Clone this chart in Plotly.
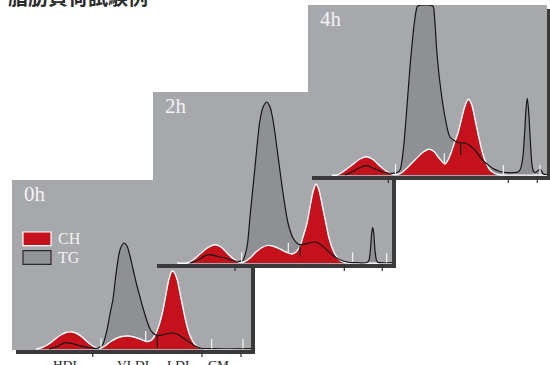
import numpy as np
import plotly.graph_objects as go

# ---------------- data (elution time in min, detector response) ----------------
title_text = "脂肪負荷試験例"
panel_names = ["0h", "2h", "4h"]
legend_labels = ["CH", "TG"]
fraction_labels = ["HDL", "VLDL", "LDL", "CM"]
fraction_label_t = [5.45, 12.25, 16.75, 20.6]

ch0_t = [2.4, 3.0, 3.6, 4.2, 4.8, 5.4, 6.0, 6.5, 7.0, 7.5, 8.0, 8.5, 8.9, 9.3, 9.8, 10.4, 11.0,
         11.6, 12.2, 12.8, 13.3, 13.6, 13.9, 14.2, 14.5, 14.8, 15.1, 15.4, 15.7, 16.0, 16.2, 16.5,
         16.8, 17.1, 17.4, 17.7, 18.0, 18.3, 18.6, 19.0, 19.5, 23.9]
ch0_v = [0, 1.5, 4.5, 9, 13.5, 16.5, 17, 15.5, 12, 7.5, 3.5, 1, 1, 3, 7, 10.5, 12.5,
         13, 12, 10, 8, 7.5, 8.5, 12, 18, 27, 39, 55, 70, 78, 77, 70,
         56, 41, 27, 16, 9, 4.5, 2, 0.8, 0, 0]
tg0_t = [3.7, 4.5, 5.3, 6.0, 7.1, 8.0, 8.5, 8.8, 9.1, 9.5, 9.8, 10.1, 10.4, 10.7, 10.9, 11.2,
         11.5, 11.8, 12.1, 12.5, 12.8, 13.1, 13.5, 13.8, 14.1, 14.5, 15.0, 15.6, 16.1, 16.6,
         17.1, 17.6, 18.0, 18.4, 18.8, 19.3, 20.0, 23.9]
tg0_v = [0, 2.5, 6.3, 5.5, 2.3, 1, 0.7, 2, 5, 19, 35, 50, 75, 95, 102, 106,
         103, 93, 80, 63, 52, 41, 28, 20, 16, 13.5, 14, 15.5, 16, 14.5,
         11, 7.7, 5, 2.7, 1.2, 0.5, 0.3, 0.3]

ch2_t = [2.4, 3.4, 4.0, 4.7, 5.5, 6.2, 6.8, 7.4, 8.0, 8.5, 8.8, 9.2, 9.7, 10.3, 10.9, 11.5,
         12.1, 12.7, 13.3, 13.9, 14.3, 14.7, 15.0, 15.4, 15.7, 16.0, 16.3, 16.6, 16.9, 17.3,
         17.6, 18.0, 18.4, 18.8, 19.2, 23.9]
ch2_v = [0, 0, 3, 9, 15.5, 18.3, 16, 10, 4.5, 1.5, 0.5, 1.5, 5, 11, 15.5, 17.6,
         16.5, 14, 11, 9, 11, 17, 26, 40, 56, 71, 79, 73, 59, 39.5,
         25, 13, 5.5, 2, 0.5, 0]
tg2_t = [3.7, 4.5, 5.5, 6.5, 7.4, 8.0, 8.7, 9.0, 9.4, 9.7, 10.2, 10.7, 11.05, 11.4, 11.7,
         12.0, 12.5, 13.0, 13.5, 14.0, 14.5, 15.0, 15.6, 16.2, 16.6, 17.0, 17.45, 17.9, 18.3,
         18.7, 19.2, 19.7, 20.5, 21.4, 21.6, 21.75, 21.87, 21.97, 22.07, 22.19, 22.34, 22.5,
         22.8, 23.9]
tg2_v = [0, 3, 8.3, 6.5, 4.3, 2.5, 1.6, 3, 16, 46, 96, 143, 157, 161, 156,
         143, 107, 70, 40, 25, 19, 18.5, 20, 21, 19.5, 16.6, 12.5, 8.3, 5.5,
         3.3, 1.5, 0.5, 0.3, 0.5, 3, 14, 30, 35.6, 30, 14, 3, 0.5,
         0.3, 0.3]

ch4_t = [2.4, 2.9, 3.6, 4.4, 5.2, 5.87, 6.5, 7.2, 7.9, 8.5, 9.0, 9.4, 10.0, 10.7, 11.4, 12.1,
         12.6, 13.1, 13.7, 14.0, 14.3, 14.6, 15.0, 15.4, 15.7, 16.03, 16.35, 16.7, 17.03, 17.4,
         17.8, 18.2, 18.6, 19.0, 19.4, 23.9]
ch4_v = [0, 0, 4, 10, 16, 18.3, 15.5, 9, 3.5, 0.8, 0.8, 2.5, 8, 15, 22, 25.7,
         23.5, 17, 11, 15, 22, 31, 42, 58, 69, 75.7, 71, 56, 40, 24,
         12, 5, 2, 0.5, 0, 0]
tg4_t = [3.7, 4.5, 5.2, 5.87, 6.6, 7.37, 8.0, 8.5, 8.9, 9.2, 9.53, 9.87, 10.2, 10.63, 10.85,
         10.97, 12.47, 12.65, 12.87, 13.2, 13.7, 14.2, 14.87, 15.3, 15.7, 16.37, 16.8, 17.2,
         17.6, 18.03, 18.5, 19.0, 19.5, 20.0, 20.5, 21.0, 21.2, 21.45, 21.65, 21.8, 21.93,
         22.05, 22.2, 22.38, 22.53, 22.7, 22.95, 23.2, 23.4, 23.53, 23.9]
tg4_v = [0, 3.5, 7.5, 9.3, 6.5, 3.3, 2, 1.7, 2.5, 5, 25, 65, 108, 152, 166,
         169, 169, 158, 125, 91.7, 58, 38, 33, 32, 32, 28, 23.5, 18,
         13.5, 10, 6.5, 4.3, 3, 2.3, 2.3, 3, 5, 15, 40, 66, 76.7,
         66, 40, 12, 4, 2.5, 4, 5.7, 3.5, 1, 0.5]

# fraction collection markers (white), fraction boundaries (dark), VLDL/LDL cut (black)
collect_t = [[8.9, 13.37, 19.97, 23.1], [8.87, 13.53, 19.97, 23.37], [8.75, 13.63, 19.53, 23.2]]
boundary_t = [[8.07, 19.0, 22.9], [8.2, 19.13, 22.93], [8.03, 20.03, 22.93]]
cut_t = [14.53, 14.7, 15.27]

ch_t = [ch0_t, ch2_t, ch4_t]
ch_v = [ch0_v, ch2_v, ch4_v]
tg_t = [tg0_t, tg2_t, tg4_t]
tg_v = [tg0_v, tg2_v, tg4_v]

# ---------------- layout geometry (pixels) ----------------
W, H = 550, 365
panels = [dict(x0=12, top=180, base=349), dict(x0=153, top=92, base=263), dict(x0=308, top=5, base=175)]
PW = 239  # panel width px
SH = 4    # shadow offset

RED = "#c5111b"
PANEL = "#a7a8ac"
TGFILL = "#8f9094"
SHADOW = "#3a3a3a"
TXT = "#f2f2f2"
SERIF = "Liberation Serif"

fig = go.Figure()
shapes = []
annotations = []
layout_axes = {}

for i, p in enumerate(panels):
    sfx = "" if i == 0 else str(i + 1)
    xa, ya = "x" + sfx, "y" + sfx
    xr = min(p["x0"] + PW + SH + 2, W)
    ph = p["base"] - p["top"]
    layout_axes["xaxis" + sfx] = dict(domain=[p["x0"] / W, xr / W], range=[0, (xr - p["x0"]) / 10],
                                      visible=False, fixedrange=True)
    layout_axes["yaxis" + sfx] = dict(domain=[(H - (p["base"] + 10)) / H, (H - p["top"]) / H],
                                      range=[-10, ph], visible=False, fixedrange=True)
    # shadow + panel
    shapes.append(dict(type="rect", xref=xa, yref=ya, x0=SH / 10, x1=(PW + SH) / 10, y0=-1 - SH, y1=ph - SH,
                       fillcolor=SHADOW, line=dict(width=0), layer="below"))
    shapes.append(dict(type="rect", xref=xa, yref=ya, x0=0, x1=PW / 10, y0=-1, y1=ph,
                       fillcolor=PANEL, line=dict(width=0), layer="below"))

    # TG fill
    fig.add_trace(go.Scatter(x=tg_t[i], y=tg_v[i], xaxis=xa, yaxis=ya, mode="lines", fill="tozeroy",
                             fillcolor=TGFILL, line=dict(width=0, shape="spline", smoothing=0.8),
                             showlegend=False, hoverinfo="skip"))
    # CH fill
    fig.add_trace(go.Scatter(x=ch_t[i], y=ch_v[i], xaxis=xa, yaxis=ya, mode="lines", fill="tozeroy",
                             fillcolor=RED, line=dict(width=1.4, color="white", shape="spline", smoothing=0.8),
                             showlegend=False, hoverinfo="skip"))
    # TG line
    fig.add_trace(go.Scatter(x=tg_t[i], y=tg_v[i], xaxis=xa, yaxis=ya, mode="lines",
                             line=dict(width=1.2, color="#161616", shape="spline", smoothing=0.8),
                             showlegend=False, hoverinfo="skip"))
    # white collection markers
    cv = np.interp(collect_t[i], ch_t[i], ch_v[i])
    wx, wy = [], []
    for t, v in zip(collect_t[i], cv):
        wx += [t, t, None]
        wy += [v + 0.5, v + 10, None]
    fig.add_trace(go.Scatter(x=wx, y=wy, xaxis=xa, yaxis=ya, mode="lines",
                             line=dict(width=1.2, color="#f4f4f4"), showlegend=False, hoverinfo="skip"))
    # VLDL/LDL cut
    tv = float(np.interp(cut_t[i], tg_t[i], tg_v[i]))
    fig.add_trace(go.Scatter(x=[cut_t[i], cut_t[i]], y=[tv, max(tv - 12, -1)], xaxis=xa, yaxis=ya,
                             mode="lines", line=dict(width=1.2, color="#161616"),
                             showlegend=False, hoverinfo="skip"))
    # boundary ticks below the baseline
    bx, by = [], []
    for t in boundary_t[i]:
        bx += [t, t, None]
        by += [-1, -8, None]
    fig.add_trace(go.Scatter(x=bx, y=by, xaxis=xa, yaxis=ya, mode="lines",
                             line=dict(width=1.2, color="#333333"), showlegend=False, hoverinfo="skip"))

    # panel label
    annotations.append(dict(xref=xa, yref=ya, x=1.0, y=ph - 14, text=panel_names[i], showarrow=False,
                            xanchor="left", yanchor="middle", font=dict(family=SERIF, size=21, color=TXT)))

# legend (inside 0h panel)
shapes.append(dict(type="rect", xref="x", yref="y", x0=1.1, x1=3.9, y0=103.3, y1=117,
                   fillcolor=RED, line=dict(width=1.2, color="white"), layer="below"))
shapes.append(dict(type="rect", xref="x", yref="y", x0=1.1, x1=3.9, y0=84.7, y1=98.3,
                   fillcolor="#939498", line=dict(width=1.2, color="#2a2a2a"), layer="below"))
for lab, yy in zip(legend_labels, [110.5, 92]):
    annotations.append(dict(xref="x", yref="y", x=4.4, y=yy, text=lab, showarrow=False,
                            xanchor="left", yanchor="middle", font=dict(family=SERIF, size=16, color=TXT)))

# fraction labels under 0h
for lab, t in zip(fraction_labels, fraction_label_t):
    annotations.append(dict(xref="x", yref="y", x=t, y=-5.5, text=lab, showarrow=False,
                            xanchor="center", yanchor="top", font=dict(family=SERIF, size=13.5, color="#222222")))

# title (partly above the page, as in the source image)
annotations.append(dict(xref="paper", yref="paper", x=6 / W, y=(H + 4) / H, text="<b>" + title_text + "</b>",
                        showarrow=False, xanchor="left", yanchor="middle",
                        font=dict(family="Noto Sans CJK JP", size=20, color="#2b2b2b")))

fig.update_layout(width=W, height=H, margin=dict(l=0, r=0, t=0, b=0), paper_bgcolor="white",
                  plot_bgcolor="rgba(0,0,0,0)", shapes=shapes, annotations=annotations,
                  showlegend=False, **layout_axes)
fig.write_html("out.html", config={"displayModeBar": False})
